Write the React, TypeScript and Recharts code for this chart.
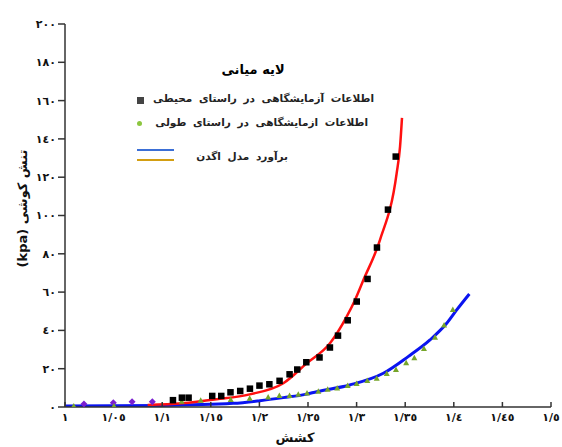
import {
  ComposedChart,
  Line,
  Scatter,
  XAxis,
  YAxis,
} from "recharts";

// circumferential test data (black squares)
const circumData: [number, number][] = [
  [1.1108, 3.7], [1.12, 5.0], [1.1269, 5.0], [1.1512, 5.9], [1.1605, 5.9],
  [1.17, 7.8], [1.18, 8.5], [1.19, 9.7], [1.1998, 11.3], [1.21, 12.0],
  [1.2205, 13.8], [1.2308, 17.2], [1.2387, 19.7], [1.248, 23.5], [1.2616, 26.0],
  [1.2723, 31.2], [1.2806, 37.4], [1.2906, 45.4], [1.2999, 55.2], [1.311, 67.0],
  [1.3207, 83.4], [1.332, 103.2], [1.34, 130.9],
];

// longitudinal test data (green)
const longData: [number, number][] = [
  [1.009, 0.3], [1.0504, 0.3], [1.12, 2.8], [1.1396, 3.3], [1.1705, 3.7],
  [1.19, 4.3], [1.209, 4.9], [1.2205, 5.7], [1.231, 5.7], [1.24, 6.4],
  [1.249, 7.1], [1.2606, 8.0], [1.2702, 9.0], [1.28, 9.7], [1.2908, 11],
  [1.3, 12], [1.311, 13.6], [1.3207, 14.8], [1.331, 17.2], [1.3405, 19.3],
  [1.351, 22.8], [1.3594, 25.4], [1.3693, 30.3], [1.3807, 36.2], [1.39, 42.5],
  [1.399, 50.7],
];

// extra purple points near zero
const purpleData: [number, number][] = [
  [1.0195, 1.6], [1.0497, 2.2], [1.069, 2.8], [1.0898, 2.8],
];

// Ogden model fits
const redFit: [number, number][] = [
  [1.085, 1.0], [1.12, 1.9], [1.156, 4.0], [1.19, 6.6], [1.2246, 12.4],
  [1.2486, 22.8], [1.2726, 33.3], [1.2898, 47.2], [1.2984, 55.9], [1.307, 66.3],
  [1.324, 87.2], [1.3412, 122], [1.3447, 136], [1.3467, 151],
];

const blueFit: [number, number][] = [
  [1.0, 0.5], [1.1, 0.8], [1.173, 1.9], [1.2006, 3.3], [1.2246, 4.9],
  [1.2475, 6.6], [1.259, 8.0], [1.293, 11.5], [1.3275, 17.6], [1.353, 26.3],
  [1.3755, 35], [1.3927, 43.7], [1.403, 50.7], [1.416, 59],
];

const xTicks = [1, 1.05, 1.1, 1.15, 1.2, 1.25, 1.3, 1.35, 1.4, 1.45, 1.5];
const yTicks = [0, 20, 40, 60, 80, 100, 120, 140, 160, 180, 200];

const title = "لایه میانی";
const legendCircum = "اطلاعات آزمایشگاهی در راستای محیطی";
const legendLong = "اطلاعات ازمایشگاهی در راستای طولی";
const legendFit = "برآورد مدل اگدن";
const yLabel = "تنش کوشی (kpa)";
const xLabel = "کشش";

const digits = "٠١٢٣٤٥٦٧٨٩";
const toArabic = (v: number) =>
  String(Math.round(v * 100) / 100)
    .replace(".", "/")
    .replace(/[0-9]/g, (d) => digits[Number(d)]);

const pts = (arr: [number, number][]) => arr.map(([x, y]) => ({ x, y }));

const font = "'DejaVu Sans', sans-serif";
const tickStyle = { fontSize: 11, fontWeight: "bold", fill: "#111", fontFamily: font };
const legendText = {
  position: "absolute" as const,
  textAlign: "right" as const,
  direction: "rtl" as const,
  whiteSpace: "nowrap" as const,
  fontFamily: font,
  fontWeight: "bold",
  fontSize: 10.5,
  wordSpacing: 3,
  color: "#222",
};

const SquareShape = (p: any) => (
  <rect x={p.cx - 3} y={p.cy - 3} width={6.5} height={6.5} fill="#000" />
);
const GreenShape = (p: any) => (
  <polygon
    points={`${p.cx},${p.cy - 3.5} ${p.cx + 3},${p.cy + 2} ${p.cx - 3},${p.cy + 2}`}
    fill="#76a52a"
  />
);
const PurpleShape = (p: any) => (
  <polygon
    points={`${p.cx},${p.cy - 3.5} ${p.cx + 3.5},${p.cy} ${p.cx},${p.cy + 3.5} ${p.cx - 3.5},${p.cy}`}
    fill="#7a1fd0"
  />
);

export default function App() {
  return (
    <div style={{ position: "absolute", left: 0, top: 0, width: 562, height: 447, background: "#fff" }}>
      <ComposedChart
        width={562}
        height={447}
        margin={{ top: 24, right: 11, bottom: 0, left: 0 }}
      >
        <XAxis
          xAxisId="bottom"
          dataKey="x"
          type="number"
          domain={[1, 1.5]}
          ticks={xTicks}
          tickFormatter={toArabic}
          height={40}
          tickSize={-5}
          tickMargin={11}
          tick={tickStyle}
          stroke="#333"
          strokeWidth={1.5}
          allowDataOverflow
        />
        <XAxis
          xAxisId="top"
          orientation="top"
          type="number"
          domain={[1, 1.5]}
          ticks={xTicks}
          height={0}
          tick={false}
          tickSize={-5}
          stroke="#333"
          strokeWidth={1.5}
          allowDataOverflow
        />
        <YAxis
          yAxisId="left"
          dataKey="y"
          type="number"
          domain={[0, 200]}
          ticks={yTicks}
          tickFormatter={toArabic}
          width={65}
          tickSize={7}
          tickMargin={2}
          tick={tickStyle}
          stroke="#333"
          strokeWidth={1.5}
          allowDataOverflow
        />
        <YAxis
          yAxisId="right"
          orientation="right"
          type="number"
          domain={[0, 200]}
          ticks={yTicks}
          width={0}
          tick={false}
          tickSize={-5}
          stroke="#333"
          strokeWidth={1.5}
          allowDataOverflow
        />
        <Line
          xAxisId="bottom"
          yAxisId="left"
          data={pts(blueFit)}
          dataKey="y"
          type="monotone"
          stroke="#0a14f0"
          strokeWidth={3}
          dot={false}
          isAnimationActive={false}
        />
        <Line
          xAxisId="bottom"
          yAxisId="left"
          data={pts(redFit)}
          dataKey="y"
          type="monotone"
          stroke="#ff1010"
          strokeWidth={2.5}
          dot={false}
          isAnimationActive={false}
        />
        <Scatter
          xAxisId="bottom"
          yAxisId="left"
          data={pts(purpleData)}
          dataKey="y"
          shape={PurpleShape}
          isAnimationActive={false}
        />
        <Scatter
          xAxisId="bottom"
          yAxisId="left"
          data={pts(longData)}
          dataKey="y"
          shape={GreenShape}
          isAnimationActive={false}
        />
        <Scatter
          xAxisId="bottom"
          yAxisId="left"
          data={pts(circumData)}
          dataKey="y"
          shape={SquareShape}
          isAnimationActive={false}
        />
      </ComposedChart>

      <div style={{ position: "absolute", left: 200, top: 62, width: 106, textAlign: "center", direction: "rtl", fontFamily: font, fontWeight: "bold", fontSize: 13 }}>
        {title}
      </div>
      <div style={{ position: "absolute", left: 137, top: 97, width: 7, height: 7, background: "#444" }} />
      <div style={{ ...legendText, left: 124, top: 92, width: 250 }}>
        {legendCircum}
      </div>
      <div style={{ position: "absolute", left: 137, top: 121, width: 5, height: 5, borderRadius: 3, background: "#8cc63f" }} />
      <div style={{ ...legendText, left: 118, top: 116, width: 250 }}>
        {legendLong}
      </div>
      <div style={{ position: "absolute", left: 137, top: 149, width: 37, height: 2, background: "#3b6fd6" }} />
      <div style={{ position: "absolute", left: 137, top: 159, width: 37, height: 2, background: "#d39e12" }} />
      <div style={{ ...legendText, left: 178, top: 150, width: 110 }}>
        {legendFit}
      </div>
      <div style={{ position: "absolute", left: 22, top: 210, width: 0, height: 0 }}>
        <div style={{ position: "absolute", left: -70, top: -9, width: 140, textAlign: "center", transform: "rotate(-90deg)", whiteSpace: "nowrap", direction: "rtl", fontFamily: font, fontWeight: "bold", fontSize: 13, color: "#111" }}>
          {yLabel}
        </div>
      </div>
      <div style={{ position: "absolute", left: 270, top: 430, width: 50, textAlign: "center", direction: "rtl", fontFamily: font, fontWeight: "bold", fontSize: 13, color: "#111" }}>
        {xLabel}
      </div>
    </div>
  );
}
